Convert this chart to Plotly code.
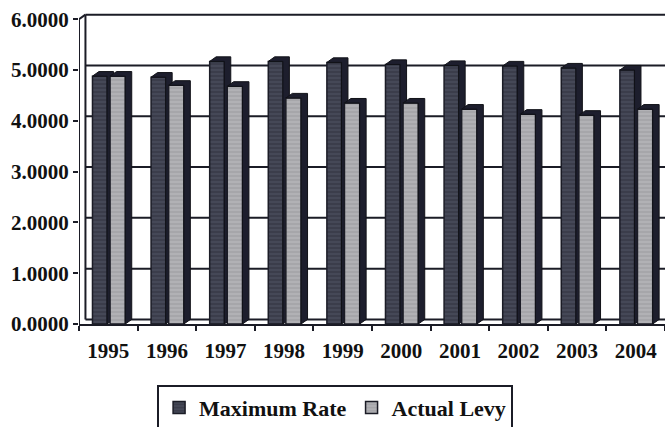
import plotly.graph_objects as go

# Levy rates by year
years = ["1995", "1996", "1997", "1998", "1999", "2000", "2001", "2002", "2003", "2004"]
max_rate = [4.88, 4.86, 5.17, 5.17, 5.15, 5.11, 5.09, 5.08, 5.04, 5.00]
actual_levy = [4.88, 4.70, 4.68, 4.45, 4.35, 4.35, 4.23, 4.13, 4.11, 4.23]
y_ticks = [0, 1, 2, 3, 4, 5, 6]

# pseudo-3D geometry (data units)
DX, DY = 0.11, 0.09
X0, X1 = -0.5, 9.5
Y_TOP = 6

FONT = "Liberation Serif"
INK = "#1b1c26"


def depth_polygons(xs, vals, offset, width):
    """Top cap + right side of each bar, as one closed outline per bar."""
    px, py = [], []
    for x, v in zip(xs, vals):
        xl, xr = x + offset, x + offset + width
        px += [xl, xl + DX, xr + DX, xr + DX, xr, xr, xl, None]
        py += [v, v + DY, v + DY, DY, 0, v, v, None]
    return px, py


xs = list(range(len(years)))
series = [
    ("Maximum Rate", max_rate, -0.27, 0.25, "#3b3d4b", "#575a6c", "x", "y"),
    ("Actual Levy", actual_levy, 0.03, 0.26, "#a6a6aa", "#c6c6c8", "x2", "y2"),
]

fig = go.Figure()
for name, vals, off, w, col, stripe, xa, ya in series:
    fig.add_trace(go.Bar(
        x=xs, y=vals, name=name, offset=off, width=w,
        xaxis=xa, yaxis=ya,
        marker=dict(
            color=col,
            line=dict(color=INK, width=1.5),
            pattern=dict(shape="-", size=4, solidity=0.35,
                         fgcolor=stripe, fillmode="overlay"),
        ),
    ))
    px, py = depth_polygons(xs, vals, off, w)
    fig.add_trace(go.Scatter(
        x=px, y=py, mode="lines", fill="toself",
        fillcolor="#1d1e2d", line=dict(color="#111218", width=1),
        xaxis=xa, yaxis=ya, showlegend=False, hoverinfo="skip",
    ))

# back wall: gridlines, top edge, left edge, floor
wall = dict(color=INK, width=2)
for k in y_ticks:
    fig.add_shape(type="line", xref="x", yref="y", layer="below",
                  x0=X0 + DX, x1=X1 + 1, y0=k + DY, y1=k + DY, line=wall)
fig.add_shape(type="line", xref="x", yref="y", layer="below",
              x0=X0 + DX, x1=X0 + DX, y0=DY, y1=Y_TOP + DY, line=wall)
fig.add_shape(type="line", xref="x", yref="y", layer="below",
              x0=X0, x1=X0 + DX, y0=Y_TOP, y1=Y_TOP + DY, line=wall)
# front vertical axis line
fig.add_shape(type="line", xref="x", yref="y",
              x0=X0, x1=X0, y0=0, y1=Y_TOP, line=wall)

fig.update_layout(
    width=665, height=427,
    margin=dict(l=79, r=0, t=4, b=103, autoexpand=False),
    paper_bgcolor="white", plot_bgcolor="white",
    barmode="overlay",
    showlegend=True,
    legend=dict(
        orientation="h", x=0.437, xanchor="center", y=-0.19, yanchor="top",
        bordercolor=INK, borderwidth=2, bgcolor="white",
        font=dict(family=FONT, size=22, color="#111", weight="bold"),
        itemwidth=30, tracegroupgap=0,
    ),
    xaxis=dict(
        range=[X0, X1], tickvals=xs, ticktext=years,
        showgrid=False, zeroline=False, automargin=False,
        showline=True, linecolor=INK, linewidth=2,
        ticks="outside", ticklen=7, tickcolor="rgba(0,0,0,0)",
        tickfont=dict(family=FONT, size=21, color="#111", weight="bold"),
        minor=dict(ticks="outside", tick0=-0.5, dtick=1, ticklen=5,
                   tickwidth=2, tickcolor=INK, showgrid=False),
    ),
    yaxis=dict(
        range=[0, 6.3], tickvals=y_ticks, tickformat=".4f",
        showgrid=False, zeroline=False, showline=False, automargin=False,
        ticks="outside", ticklen=5, tickwidth=2, tickcolor=INK,
        tickfont=dict(family=FONT, size=21, color="#111", weight="bold"),
    ),
    xaxis2=dict(overlaying="x", range=[X0, X1], visible=False),
    yaxis2=dict(overlaying="y", range=[0, 6.3], visible=False),
)

fig.write_html("out.html")
